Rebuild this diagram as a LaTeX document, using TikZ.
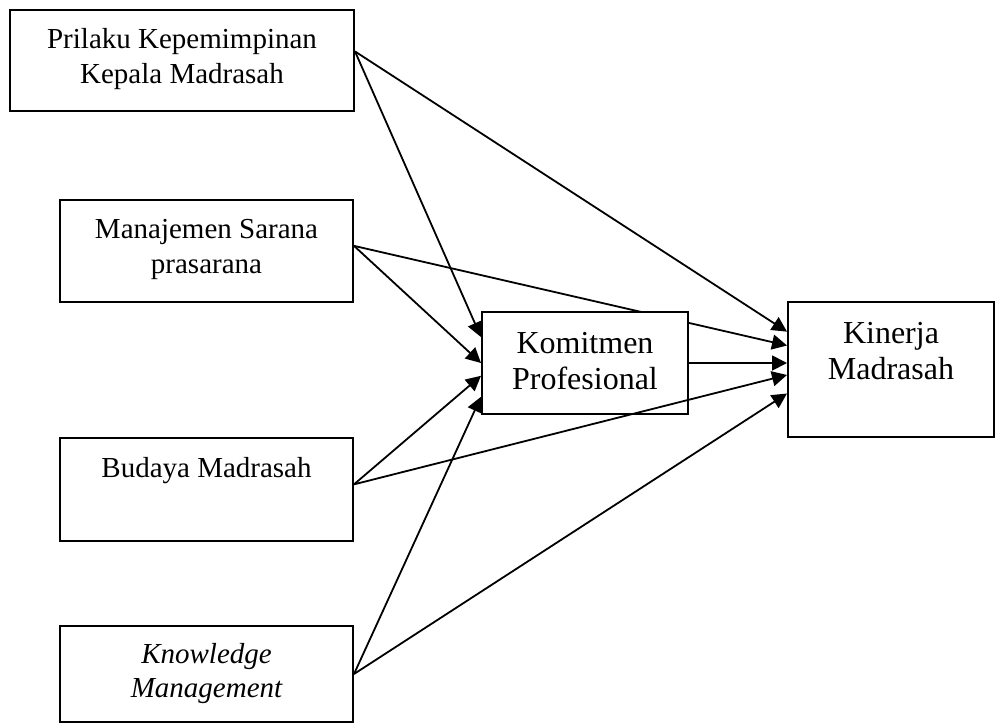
\documentclass[tikz,border=0pt]{standalone}
\usepackage{fontspec}
\setmainfont{Liberation Serif}
\usepackage{tikz}
\usetikzlibrary{arrows.meta,backgrounds}
\tikzset{kotak/.style={draw, line width=1pt, fill=white, inner sep=0pt}}
\tikzset{teks/.style={align=center, inner sep=0pt, anchor=base, font=\fontsize{14.5}{17.5}\selectfont}}
\tikzset{teksbesar/.style={teks, font=\fontsize{16}{18}\selectfont}}
\tikzset{panah/.style={line width=.9pt, -{Triangle[length=7.5pt,width=7.5pt]}}}

\begin{document}
\begin{tikzpicture}[x=0.5pt,y=-0.5pt]
      \useasboundingbox (0,0) rectangle (995,724);
      \node[kotak, minimum width=172pt, minimum height=50.5pt] (kp) at (182,60.5) {};
      \node[kotak, minimum width=146.5pt, minimum height=51pt] (ms) at (206.5,251) {};
      \node[kotak, minimum width=146.5pt, minimum height=51.5pt] (bm) at (206.5,489.5) {};
      \node[kotak, minimum width=146.5pt, minimum height=48pt] (km) at (206.5,674) {};
      \node[kotak, minimum width=103pt, minimum height=51pt] (kom) at (585,363) {};
      \node[kotak, minimum width=103pt, minimum height=67.5pt] (kin) at (891,369.5) {};
      % anchor base = garis dasar baris terakhir
      \node[teks] (kpteks) at (182,83) {Prilaku Kepemimpinan\\Kepala Madrasah};
      \node[teks] (msteks) at (206.5,273) {Manajemen Sarana\\prasarana};
      \node[teks] (bmteks) at (206.5,477) {Budaya Madrasah};
      \node[teks, font=\fontsize{14.5}{17}\selectfont\itshape] (kmteks) at (206.5,697) {Knowledge\\Management};
      \node[teksbesar] (komteks) at (585,389) {Komitmen\\Profesional};
      \node[teksbesar] (kinteks) at (891,379) {Kinerja\\Madrasah};
      % garis yang lewat di belakang kotak komitmen
      \begin{scope}[on background layer]
        \draw (ms.2) edge[panah] (kin.167);
      \end{scope}
      \draw (kp.3) edge[panah] (kom.166) edge[panah] (kin.160)
      (ms.2) edge[panah] (kom.180)
      (bm.2) edge[panah] (kom.187) edge[panah] (kin.183)
      (km.east) edge[panah] (kom.198) edge[panah] (kin.193)
      (kom.east) edge[panah] (kin.west |- kom.east);
    \end{tikzpicture}
\end{document}
